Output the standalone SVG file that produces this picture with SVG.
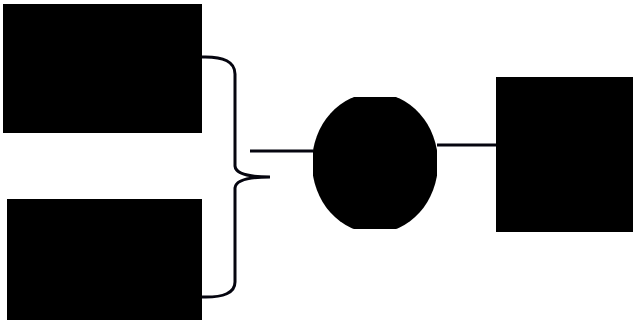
<svg xmlns="http://www.w3.org/2000/svg" width="633" height="320" viewBox="0 0 633 320">
<style>
.node{fill:#000}
.conn{fill:none;stroke:#05050f;stroke-width:3}
</style>
<defs>
<clipPath id="cc"><rect x="313" y="97" width="124" height="132"/></clipPath>
</defs>
<rect width="633" height="320" fill="#fff"/>
<g id="connectors">
<path class="conn" d="M202,57 Q235,56 235,74 L235,166 Q236,177 270,177 Q236,177 235,188 L235,282 Q235,298 202,297"/>
<path class="conn" d="M250,151 L313,151"/>
<path class="conn" d="M437,145 L496,145"/>
</g>
<g id="box-top-left"><rect class="node" x="3" y="4" width="199" height="129"/></g>
<g id="box-bottom-left"><rect class="node" x="7" y="199" width="195" height="121"/></g>
<g id="circle"><ellipse class="node" cx="375" cy="163" rx="63" ry="70" clip-path="url(#cc)"/></g>
<g id="box-right"><rect class="node" x="496" y="77" width="137" height="155"/></g>
</svg>
